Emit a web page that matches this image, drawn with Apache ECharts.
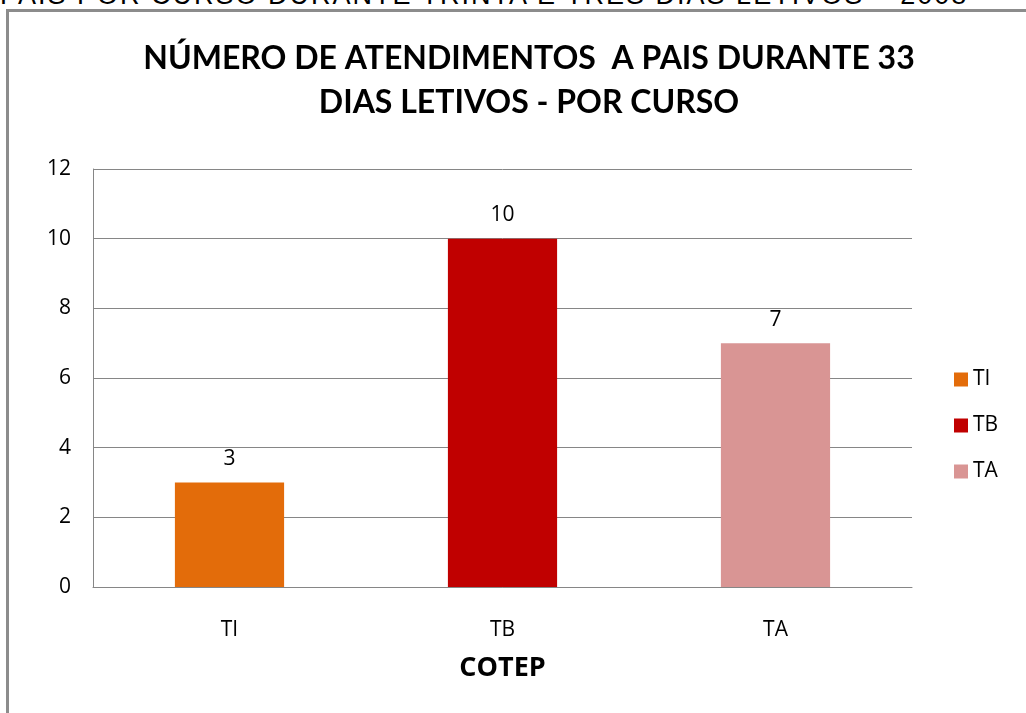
<!DOCTYPE html>
<html>
<head>
<meta charset="utf-8">
<script src="https://cdn.jsdelivr.net/npm/echarts@6/dist/echarts.min.js"></script>
<style>
    html, body { margin: 0; padding: 0; background: #fff; overflow: hidden; }
    #topLine {
        position: absolute; left: 0; top: -20px; width: 1200px; white-space: nowrap;
        font-family: 'Liberation Sans', Arial, sans-serif; font-size: 27px; letter-spacing: 2px; color: #000;
    }
    #frame {
        position: absolute; left: 6px; top: 9px; width: 1030px; height: 720px;
        border-top: 3px solid #8c8c8c; border-left: 3px solid #8c8c8c;
    }
    #chart { position: absolute; left: 0; top: 0; width: 1026px; height: 713px; }
</style>
</head>
<body>
<div id="topLine">PAIS POR CURSO DURANTE TRINTA E TRÊS DIAS LETIVOS – 2008</div>
<div id="frame"></div>
<div id="chart"></div>

<script>
    var categories = ['TI', 'TB', 'TA'];
    var values = [3, 10, 7];
    var colors = ['#e36c0a', '#c00000', '#d99594'];

    var chart = echarts.init(document.getElementById('chart'));

    // uma série por curso, empilhadas para ficar centradas na categoria
    var series = categories.map(function (name, i) {
        var data = categories.map(function (c, j) { return j === i ? values[i] : '-'; });
        return {
            name: name,
            type: 'bar',
            stack: 'cursos',
            barWidth: '40%',
            data: data,
            itemStyle: { color: colors[i] },
            label: {
                show: true, position: 'top', distance: 13,
                fontFamily: 'Open Sans', fontSize: 21, color: '#000'
            }
        };
    });

    var option = {
        backgroundColor: 'transparent',
        animation: false,
        title: {
            text: 'NÚMERO DE ATENDIMENTOS  A PAIS DURANTE 33\nDIAS LETIVOS - POR CURSO',
            left: 524, top: 32, textAlign: 'center',
            textStyle: { fontFamily: 'Lato', fontWeight: 'bold', fontSize: 32, lineHeight: 44, color: '#000' }
        },
        legend: {
            orient: 'vertical', left: 949, top: 364, itemGap: 25,
            itemWidth: 14, itemHeight: 14, icon: 'rect',
            textStyle: { fontFamily: 'Open Sans', fontSize: 21, color: '#000' },
            data: categories
        },
        grid: { left: 93, right: 114, top: 169, bottom: 126 },
        xAxis: {
            type: 'category',
            data: categories,
            name: 'COTEP', nameLocation: 'middle', nameGap: 68,
            nameTextStyle: { fontFamily: 'Open Sans', fontWeight: 'bold', fontSize: 27, color: '#000' },
            axisLine: { lineStyle: { color: '#868686' } },
            axisTick: { show: false },
            axisLabel: { fontFamily: 'Open Sans', fontSize: 21, color: '#000', margin: 33 }
        },
        yAxis: {
            type: 'value', min: 0, max: 12, interval: 2,
            axisLine: { show: true, lineStyle: { color: '#868686' } },
            axisTick: { show: false },
            axisLabel: { fontFamily: 'Open Sans', fontSize: 21, color: '#000', margin: 22 },
            splitLine: { lineStyle: { color: '#868686' } }
        },
        series: series
    };
    chart.setOption(option);
</script>
</body>
</html>
